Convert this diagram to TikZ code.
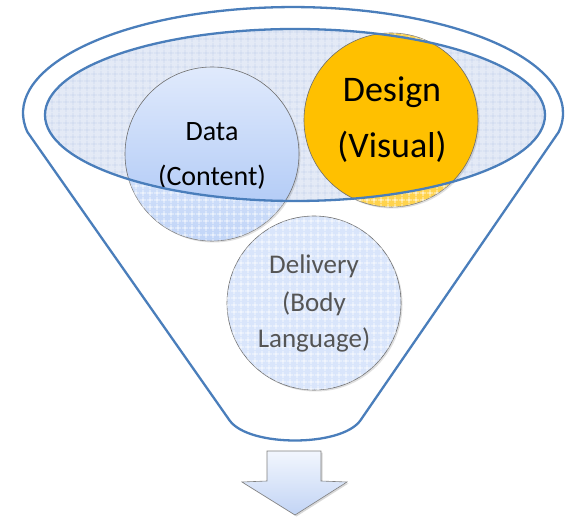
\documentclass[tikz,border=0pt]{standalone}
\usepackage{fontspec}
\setmainfont{Carlito}
\usetikzlibrary{patterns,shadows}
\definecolor{funnelblue}{RGB}{74,126,187}
\definecolor{ellfill}{RGB}{228,234,246}
\definecolor{ellgrid}{RGB}{203,215,238}
\definecolor{datatop}{RGB}{224,234,252}
\definecolor{databot}{RGB}{168,196,245}
\definecolor{delfill}{RGB}{217,229,251}
\definecolor{gold}{RGB}{255,192,0}
\definecolor{deltext}{RGB}{85,85,85}
\definecolor{rimgray}{RGB}{110,110,110}
\pgfdeclarepatternformonly{widegrid}{\pgfpointorigin}{\pgfqpoint{7pt}{7pt}}{\pgfqpoint{7pt}{7pt}}{%
  \pgfsetlinewidth{0.9pt}%
  \pgfpathmoveto{\pgfqpoint{0pt}{3.5pt}}\pgfpathlineto{\pgfqpoint{7pt}{3.5pt}}%
  \pgfpathmoveto{\pgfqpoint{3.5pt}{0pt}}\pgfpathlineto{\pgfqpoint{3.5pt}{7pt}}%
  \pgfusepath{stroke}}
\tikzset{
  circ/.style={circle, minimum size=174pt, inner sep=0pt, draw=rimgray, line width=0.6pt,
    drop shadow={shadow xshift=1.5pt, shadow yshift=-1.5pt, opacity=0.25, fill=gray}},
  funnelline/.style={draw=funnelblue, line width=2.3pt, line join=round},
  fadeover/.style={fill=white, fill opacity=0.3, even odd rule},
  gridover/.style={pattern=widegrid, pattern color=white, even odd rule},
  lbl/.style={align=center, inner sep=0pt}
}
\begin{document}
\begin{tikzpicture}[x=1pt,y=-1pt]
\useasboundingbox (0,0) rectangle (565,518);
\fill[white] (0,0) rectangle (565,518);
% inner ellipse fill
\fill[ellfill] (295,115) ellipse [x radius=250, y radius=86];
\fill[pattern=widegrid, pattern color=ellgrid] (295,115) ellipse [x radius=250, y radius=86];
% circles
\node[circ, top color=datatop, bottom color=databot] (data) at (212,154) {};
\node[circ, fill=gold] (design) at (391,120) {};
\node[circ, fill=delfill, postaction={pattern=widegrid, pattern color=white}] (delivery) at (314,303) {};
% faded parts outside the inner ellipse
\begin{scope}
  \clip (212,154) circle [radius=87];
  \fill[fadeover] (0,0) rectangle (565,518) (295,115) ellipse [x radius=250, y radius=86];
  \fill[gridover] (0,0) rectangle (565,518) (295,115) ellipse [x radius=250, y radius=86];
\end{scope}
\begin{scope}
  \clip (391,120) circle [radius=87];
  \fill[fadeover] (0,0) rectangle (565,518) (295,115) ellipse [x radius=250, y radius=86];
  \fill[gridover] (0,0) rectangle (565,518) (295,115) ellipse [x radius=250, y radius=86];
\end{scope}
% labels
\node[lbl, font=\fontsize{28}{45}\selectfont] (datatext) at (212,156) {Data\\(Content)};
\node[lbl, font=\fontsize{36}{56}\selectfont] (designtext) at (392,120) {Design\\(Visual)};
\node[lbl, font=\fontsize{27}{36}\selectfont, text=deltext] (deliverytext) at (314,303) {Delivery\\[2pt](Body\\Language)};
% inner ellipse outline
\draw[funnelline] (295,115) ellipse [x radius=250, y radius=86];
% funnel
\draw[funnelline] (27.4,132) arc [start angle=169.7, end angle=370.3, x radius=270, y radius=106]
  -- (360,421) .. controls (340,447) and (250,447) .. (230,421) -- cycle;
% arrow
\draw[draw=gray, line width=0.6pt, top color={rgb,255:red,242;green,246;blue,253}, bottom color={rgb,255:red,194;green,212;blue,245},
  drop shadow={shadow xshift=1.5pt, shadow yshift=-1.5pt, opacity=0.3, fill=gray}]
  (267,451) -- (321,451) -- (321,481) -- (347,482) -- (295,515) -- (242,482) -- (267,481) -- cycle;
\end{tikzpicture}
\end{document}
